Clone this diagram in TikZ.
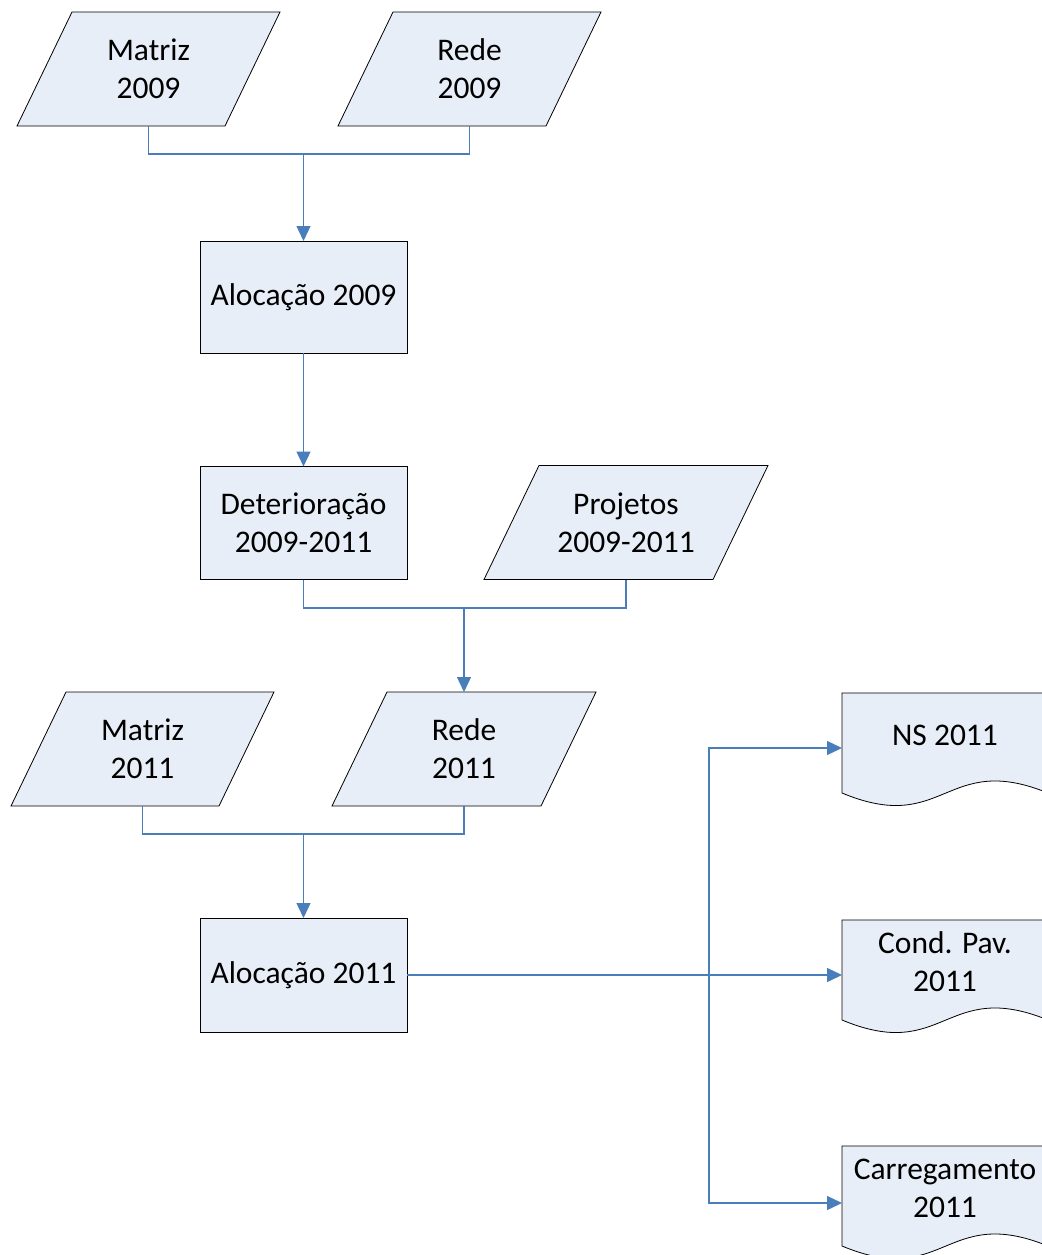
\documentclass[tikz,border=0pt]{standalone}
\usepackage{fontspec}
\setmainfont{Carlito}
\usetikzlibrary{arrows.meta,backgrounds}
\definecolor{boxfill}{HTML}{E8EEF7}
\definecolor{conn}{HTML}{4A7EBB}
\newcommand\parashape[1]{\draw[shapeline] ([xshift=27.5pt]#1.north west) -- ([xshift=27.5pt]#1.north east) -- ([xshift=-27.5pt]#1.south east) -- ([xshift=-27.5pt]#1.south west) -- cycle;}
\newcommand\docshape[1]{\draw[shapeline] (#1.north west) -- (#1.north east) -- ([shift={(103,58)}]#1.center) .. controls ([shift={(0,16)}]#1.center) and ([shift={(0,101)}]#1.center) .. ([shift={(-103,58)}]#1.center) -- cycle;}
\begin{document}
\begin{tikzpicture}[x=1pt,y=-1pt,
  txt/.style={font=\fontsize{31.5}{38}\selectfont, align=center, inner sep=0pt, outer sep=0pt},
  box/.style={txt, draw=black, fill=boxfill, line width=0.8pt, minimum width=207pt, minimum height=113pt},
  para/.style={txt, minimum height=114pt},
  docn/.style={txt, minimum width=206pt, minimum height=84pt},
  link/.style={draw=conn, line width=1.3pt},
  arr/.style={link, -{Triangle[length=15pt,width=14pt]}},
  shapeline/.style={draw=black, fill=boxfill, line width=0.8pt}]
\useasboundingbox (0,0) rectangle (1041,1255);

% parallelograms (text nodes)
\node[para, minimum width=208pt] (m09) at (148.5,69) {Matriz\\2009};
\node[para, minimum width=208pt] (r09) at (469.5,69) {Rede\\2009};
\node[para, minimum width=229pt] (p09) at (626,522.5) {Projetos\\2009-2011};
\node[para, minimum width=208pt] (m11) at (142.5,749) {Matriz\\2011};
\node[para, minimum width=209pt] (r11) at (464,749) {Rede\\2011};

% process boxes
\node[box, minimum height=112pt] (a09) at (303.5,297) {Alocação 2009};
\node[box] (det) at (303.5,523) {Deterioração\\2009-2011};
\node[box, minimum height=114pt] (a11) at (303.5,975) {Alocação 2011};

% documents
\node[docn] (ns) at (945,735) {NS 2011};
\node[docn] (cp) at (945,962) {Cond. Pav.\\2011};
\node[docn] (car) at (945,1188) {Carregamento\\2011};

\begin{pgfonlayer}{background}
  \fill[white] (0,0) rectangle (1041,1255);
  \parashape{m09}
  \parashape{r09}
  \parashape{p09}
  \parashape{m11}
  \parashape{r11}
  \docshape{ns}
  \docshape{cp}
  \docshape{car}
\end{pgfonlayer}

% junctions
\coordinate (j1) at (303.5,154);
\coordinate (j2) at (464,608);
\coordinate (j3) at (303.5,834);
\coordinate (t) at (709,975);
\coordinate (nsin) at ([yshift=-13pt]ns.west);
\coordinate (cpin) at ([yshift=-13pt]cp.west);
\coordinate (carin) at ([yshift=-15pt]car.west);

% connectors
\draw[link] (m09.south) |- (j1) -| (r09.south);
\draw[arr] (j1) -- (a09.north);
\draw[arr] (a09.south) -- (det.north);
\draw[link] (det.south) |- (j2) -| (p09.south);
\draw[arr] (j2) -- (r11.north);
\draw[link] (m11.south) |- (j3) -| (r11.south);
\draw[arr] (j3) -- (a11.north);
\draw[arr] (a11.east) -- (cpin);
\draw[arr] (t) |- (nsin);
\draw[arr] (t) |- (carin);
\end{tikzpicture}
\end{document}
